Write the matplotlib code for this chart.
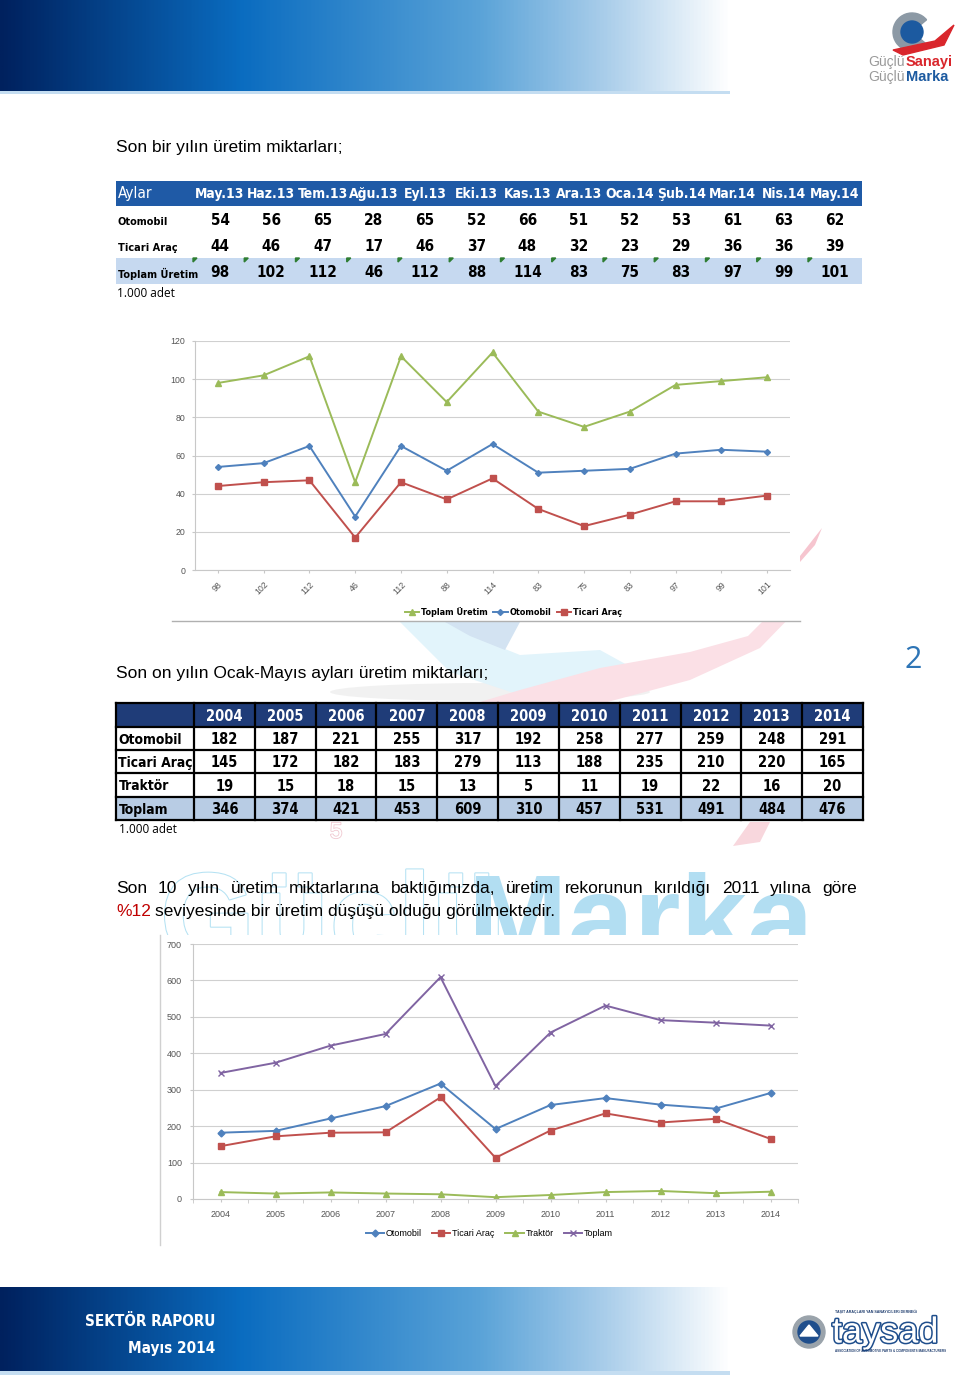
import numpy as np
import matplotlib.pyplot as plt
import matplotlib.patheffects as pe
from matplotlib import font_manager as fm
from matplotlib.colors import LinearSegmentedColormap
from matplotlib.patches import Rectangle, Polygon, Circle, Wedge, Ellipse

W, H = 960, 1375
plt.rcParams['font.family'] = ['Liberation Sans', 'DejaVu Sans']

# dar yazi tipi: DejaVu Sans Condensed varsa onu kullan
yol = fm.findfont(fm.FontProperties(family='DejaVu Sans', stretch='condensed', weight='bold'))
DAR_VAR = 'Condensed' in yol
DAR = dict(family='DejaVu Sans', stretch='condensed') if DAR_VAR else dict(family='Liberation Sans')
K = 1.0 if DAR_VAR else 0.95

# --- veriler ---
aylar = ['May.13', 'Haz.13', 'Tem.13', 'Ağu.13', 'Eyl.13', 'Eki.13', 'Kas.13',
         'Ara.13', 'Oca.14', 'Şub.14', 'Mar.14', 'Nis.14', 'May.14']
otomobil_ay = [54, 56, 65, 28, 65, 52, 66, 51, 52, 53, 61, 63, 62]
ticari_ay = [44, 46, 47, 17, 46, 37, 48, 32, 23, 29, 36, 36, 39]
toplam_ay = [98, 102, 112, 46, 112, 88, 114, 83, 75, 83, 97, 99, 101]

yillar = ['2004', '2005', '2006', '2007', '2008', '2009', '2010', '2011',
          '2012', '2013', '2014']
otomobil_yil = [182, 187, 221, 255, 317, 192, 258, 277, 259, 248, 291]
ticari_yil = [145, 172, 182, 183, 279, 113, 188, 235, 210, 220, 165]
traktor_yil = [19, 15, 18, 15, 13, 5, 11, 19, 22, 16, 20]
toplam_yil = [346, 374, 421, 453, 609, 310, 457, 531, 491, 484, 476]

MAVI, KIRMIZI, YESIL, MOR = '#4f81bd', '#c0504d', '#9bbb59', '#8064a2'


def rect(x0, y0, x1, y1):
    return [x0 / W, 1 - y1 / H, (x1 - x0) / W, (y1 - y0) / H]


fig = plt.figure(figsize=(9.6, 13.75), dpi=100)
bg = fig.add_axes([0, 0, 1, 1])
bg.set_xlim(0, W)
bg.set_ylim(H, 0)
bg.axis('off')

# --- ust ve alt bant (gradyan) ---
cmap = LinearSegmentedColormap.from_list('bant', [
    (0.0, '#00215e'), (0.25, '#0a6cc0'), (0.5, '#5aa3d8'),
    (0.63, '#a9cdea'), (0.76, '#ffffff'), (1.0, '#ffffff')])
grad = np.linspace(0, 1, 512)[None, :]
bg.imshow(grad, cmap=cmap, extent=(0, W, 91, 0), aspect='auto', zorder=1)
bg.add_patch(Rectangle((0, 91), 730, 3, color='#c4ddf1', lw=0, zorder=1))
bg.imshow(grad, cmap=cmap, extent=(0, W, 1372, 1287), aspect='auto', zorder=1)
bg.add_patch(Rectangle((0, 1371), 730, 4, color='#c4ddf1', lw=0, zorder=1))
bg.set_xlim(0, W)
bg.set_ylim(H, 0)

# ust logo
bg.add_patch(Wedge((912, 32), 19, 40, 320, width=8, color='#8c99a5', zorder=2))
bg.add_patch(Circle((912, 32), 11, color='#1c5aa0', zorder=2))
bg.add_patch(Polygon([[893, 50], [935, 41], [954, 25], [944, 45], [903, 55]],
                     color='#d9262c', zorder=3))
bg.text(868, 62, 'Güçlü', color='#9a9a9a', fontsize=10, va='center', zorder=3)
bg.text(906, 62, 'Sanayi', color='#d9262c', fontsize=10.5, weight='bold', va='center', zorder=3)
bg.text(868, 77, 'Güçlü', color='#9a9a9a', fontsize=10, va='center', zorder=3)
bg.text(906, 77, 'Marka', color='#1c5aa0', fontsize=10.5, weight='bold', va='center', zorder=3)

# alt yazilar ve logo
bg.text(215, 1322, 'SEKTÖR RAPORU', color='white', fontsize=11, weight='bold',
        ha='right', va='center', zorder=3, **DAR)
bg.text(215, 1348, 'Mayıs 2014', color='white', fontsize=11, weight='bold',
        ha='right', va='center', zorder=3, **DAR)
bg.add_patch(Circle((809, 1332), 16, color='#9aa3ab', zorder=2))
bg.add_patch(Circle((809, 1332), 11, color='#1f4e8c', zorder=3))
bg.add_patch(Polygon([[800, 1336], [809, 1325], [818, 1336]], color='white', zorder=4))
bg.text(832, 1333, 'taysad', color='white', fontsize=26, va='center', zorder=4,
        path_effects=[pe.withStroke(linewidth=2.2, foreground='#1f4e8c')])
bg.text(835, 1313, 'TAŞIT ARAÇLARI YAN SANAYİCİLERİ DERNEĞİ', color='#1f3d6e',
        fontsize=2.6, weight='bold', zorder=4)
bg.text(835, 1352, 'ASSOCIATION OF AUTOMOTIVE PARTS & COMPONENTS MANUFACTURERS',
        color='#1f3d6e', fontsize=2.2, weight='bold', zorder=4)

# --- soluk filigran (logo parcasi) ---
bg.add_patch(Ellipse((490, 692), 320, 18, color='#ececec', alpha=0.7, lw=0, zorder=1))
bg.add_patch(Wedge((560, 520), 185, 185, 245, width=28, color='#efefef', zorder=1))
bg.add_patch(Polygon([[400, 622], [450, 672], [520, 695], [600, 695], [640, 672],
                      [600, 650], [520, 655], [470, 635], [455, 622]],
                     color='#e2f4fb', lw=0, zorder=1))
bg.add_patch(Polygon([[445, 622], [520, 622], [505, 650], [470, 636]],
                     color='#d3e3f2', lw=0, zorder=1))
bg.add_patch(Polygon([[480, 702], [600, 704], [690, 680], [760, 648], [795, 612],
                      [768, 616], [748, 636], [690, 652], [600, 668], [520, 690]],
                     color='#fbe0e6', lw=0, zorder=1))
bg.add_patch(Polygon([[800, 556], [822, 528], [815, 545], [800, 562]],
                     color='#f6c5cf', lw=0, zorder=1))
bg.add_patch(Polygon([[733, 846], [750, 822], [770, 822], [760, 842]],
                     color='#f8d7dd', lw=0, zorder=1))
bg.text(330, 838, '5', fontsize=16, color='white', zorder=1,
        path_effects=[pe.withStroke(linewidth=1.2, foreground='#f0c8d0')])
bg.add_patch(Rectangle((172, 325), 628, 296, color='white', lw=0, zorder=1.5))
bg.text(160, 958, 'Güçlü', fontsize=88, weight='bold', color='white', zorder=1,
        path_effects=[pe.withStroke(linewidth=1.5, foreground='#b5e2f3')])
bg.text(468, 958, 'Marka', fontsize=86, weight='bold', color='#b2def2', zorder=1)

# --- basliklar ---
bg.text(116, 147, 'Son bir yılın üretim miktarları;', fontsize=12.5, va='center', zorder=3)
bg.text(116, 673, 'Son on yılın Ocak-Mayıs ayları üretim miktarları;', fontsize=12.5,
        va='center', zorder=3)
bg.text(913, 660, '2', fontsize=22, color='#2e75b6', ha='center', va='center',
        family=['Open Sans', 'DejaVu Sans'], zorder=3)

# --- tablo 1 ---
t1_x0, t1_x1 = 116, 862
t1_rows = [181, 206, 232, 258, 284]
t1_cx = np.linspace(220, 835, len(aylar))
bg.add_patch(Rectangle((t1_x0, t1_rows[0]), t1_x1 - t1_x0, t1_rows[1] - t1_rows[0],
                       color='#1f5aa6', lw=0, zorder=2))
bg.add_patch(Rectangle((t1_x0, t1_rows[3]), t1_x1 - t1_x0, t1_rows[4] - t1_rows[3],
                       color='#c6d9f0', lw=0, zorder=2))
bg.text(118, (t1_rows[0] + t1_rows[1]) / 2, 'Aylar', color='white', fontsize=11 * K,
        va='center', zorder=3, **DAR)
for cx, ay in zip(t1_cx, aylar):
    bg.text(cx, (t1_rows[0] + t1_rows[1]) / 2, ay, color='white', fontsize=10 * K,
            weight='bold', ha='center', va='center', zorder=3, **DAR)
t1_satirlar = [('Otomobil', otomobil_ay), ('Ticari Araç', ticari_ay),
               ('Toplam Üretim', toplam_ay)]
for i, (ad, vals) in enumerate(t1_satirlar):
    yc = (t1_rows[i + 1] + t1_rows[i + 2]) / 2 + 1
    bg.text(118, yc + 2, ad, fontsize=7.8 * K, weight='bold', va='center', zorder=3, **DAR)
    for cx, v in zip(t1_cx, vals):
        bg.text(cx, yc, str(v), fontsize=11 * K, weight='bold',
                ha='center', va='center', zorder=3, **DAR)
for cx in t1_cx:
    bg.add_patch(Polygon([[cx - 27, t1_rows[3]], [cx - 23, t1_rows[3]],
                          [cx - 27, t1_rows[3] + 4]], color='#2e7d32', zorder=3))
bg.text(117, 293, '1.000 adet', fontsize=8.5, va='center',
        family=['Open Sans', 'DejaVu Sans'], zorder=3)

# --- grafik 1 ---
ax1 = fig.add_axes(rect(195, 341, 790, 570), zorder=3)
ax1.set_facecolor('none')
x1 = np.arange(len(toplam_ay))
ax1.plot(x1, toplam_ay, color=YESIL, marker='^', ms=4, lw=1.4, label='Toplam Üretim')
ax1.plot(x1, otomobil_ay, color=MAVI, marker='D', ms=3, lw=1.4, label='Otomobil')
ax1.plot(x1, ticari_ay, color=KIRMIZI, marker='s', ms=4, lw=1.4, label='Ticari Araç')
ax1.set_xlim(-0.5, len(x1) - 0.5)
ax1.set_ylim(0, 120)
ax1.set_yticks(range(0, 121, 20))
ax1.set_xticks(x1)
ax1.set_xticklabels([str(v) for v in toplam_ay], rotation=45, ha='right',
                    rotation_mode='anchor')
ax1.grid(axis='y', color='#d0d0d0', lw=0.8)
ax1.set_axisbelow(True)
for s in ['top', 'right']:
    ax1.spines[s].set_visible(False)
ax1.spines['left'].set_color('#c8c8c8')
ax1.spines['bottom'].set_color('#c8c8c8')
ax1.tick_params(labelsize=6.3, colors='#555555', length=2, color='#c8c8c8', pad=5)
ax1.legend(loc='upper center', bbox_to_anchor=(0.535, -0.125), ncol=3, frameon=False,
           handlelength=1.6, columnspacing=0.6, handletextpad=0.2,
           prop=dict(weight='bold', size=6.5, **DAR))
bg.plot([172, 800], [621, 621], color='#b0b0b0', lw=1, zorder=3)

# --- tablo 2 ---
t2_x0, t2_x1, t2_c0 = 116, 863, 194
t2_rows = [703, 727, 750, 773, 797, 820]
t2_edges = np.linspace(t2_c0, t2_x1, len(yillar) + 1)
t2_cx = (t2_edges[:-1] + t2_edges[1:]) / 2
bg.add_patch(Rectangle((t2_x0, t2_rows[0]), t2_x1 - t2_x0, t2_rows[1] - t2_rows[0],
                       color='#1f3c78', lw=0, zorder=2))
bg.add_patch(Rectangle((t2_x0, t2_rows[4]), t2_x1 - t2_x0, t2_rows[5] - t2_rows[4],
                       color='#b8cce4', lw=0, zorder=2))
bg.add_patch(Rectangle((t2_x0 + 1.5, t2_rows[1]), t2_x1 - t2_x0 - 3, t2_rows[4] - t2_rows[1],
                       color='white', lw=0, zorder=2))
for y in t2_rows:
    bg.plot([t2_x0, t2_x1], [y, y], color='black', lw=1.6, zorder=3)
for x in [t2_x0] + list(t2_edges):
    bg.plot([x, x], [t2_rows[0], t2_rows[-1]], color='black', lw=1.6, zorder=3)
for cx, yil in zip(t2_cx, yillar):
    bg.text(cx, (t2_rows[0] + t2_rows[1]) / 2 + 1, yil, color='white', fontsize=10.5 * K,
            weight='bold', ha='center', va='center', zorder=4, **DAR)
t2_satirlar = [('Otomobil', otomobil_yil), ('Ticari Araç', ticari_yil),
               ('Traktör', traktor_yil), ('Toplam', toplam_yil)]
for i, (ad, vals) in enumerate(t2_satirlar):
    yc = (t2_rows[i + 1] + t2_rows[i + 2]) / 2 + 1
    bg.text(118.5, yc, ad, fontsize=10 * K, weight='bold', va='center', zorder=4, **DAR)
    for cx, v in zip(t2_cx, vals):
        bg.text(cx, yc, str(v), fontsize=10.5 * K, weight='bold',
                ha='center', va='center', zorder=4, **DAR)
bg.text(119, 829, '1.000 adet', fontsize=8.5, va='center',
        family=['Open Sans', 'DejaVu Sans'], zorder=3)

# --- paragraf (iki yana yasli) ---
r = fig.canvas.get_renderer()
satir1 = 'Son 10 yılın üretim miktarlarına baktığımızda, üretim rekorunun kırıldığı 2011 yılına göre'.split()
parcalar = [bg.text(0, 888, w, fontsize=12.5, va='center', zorder=3) for w in satir1]
genis = [p.get_window_extent(r).width for p in parcalar]
bosluk = (857 - 116 - sum(genis)) / (len(genis) - 1)
x = 116
for p, g in zip(parcalar, genis):
    p.set_x(x)
    x += g + bosluk
t_red = bg.text(116, 911, '%12', fontsize=12.5, color='#c00000', va='center', zorder=3)
gw = t_red.get_window_extent(r).width
bg.text(116 + gw + 4, 911, 'seviyesinde bir üretim düşüşü olduğu görülmektedir.',
        fontsize=12.5, va='center', zorder=3)

# --- grafik 2 ---
bg.add_patch(Rectangle((160, 935), 672, 312, color='white', lw=0, zorder=2))
bg.plot([160, 160], [935, 1245], color='#d0d0d0', lw=1, zorder=3)
ax2 = fig.add_axes(rect(193, 944, 798, 1199), zorder=3)
ax2.set_facecolor('none')
x2 = np.arange(len(yillar))
ax2.plot(x2, otomobil_yil, color=MAVI, marker='D', ms=3.5, lw=1.4, label='Otomobil')
ax2.plot(x2, ticari_yil, color=KIRMIZI, marker='s', ms=5, lw=1.4, label='Ticari Araç')
ax2.plot(x2, traktor_yil, color=YESIL, marker='^', ms=4, lw=1.4, label='Traktör')
ax2.plot(x2, toplam_yil, color=MOR, marker='x', ms=4, mew=1, lw=1.4, label='Toplam')
ax2.set_xlim(-0.5, len(x2) - 0.5)
ax2.set_ylim(0, 700)
ax2.set_yticks(range(0, 701, 100))
ax2.set_xticks(x2)
ax2.set_xticklabels(yillar)
ax2.set_xticks(np.arange(-0.5, len(x2), 1), minor=True)
ax2.tick_params(axis='x', which='major', length=0)
ax2.tick_params(axis='x', which='minor', length=3, color='#c8c8c8')
ax2.grid(axis='y', color='#d0d0d0', lw=0.8)
ax2.set_axisbelow(True)
for s in ['top', 'right']:
    ax2.spines[s].set_visible(False)
ax2.spines['left'].set_color('#c8c8c8')
ax2.spines['bottom'].set_color('#c8c8c8')
ax2.tick_params(labelsize=6.5, colors='#555555', color='#c8c8c8', length=2, pad=6)
ax2.legend(loc='upper center', bbox_to_anchor=(0.49, -0.085), ncol=4, frameon=False,
           handlelength=2, columnspacing=1.2, handletextpad=0.2,
           prop={'size': 6.5})

fig.savefig('out.png', dpi=100)
